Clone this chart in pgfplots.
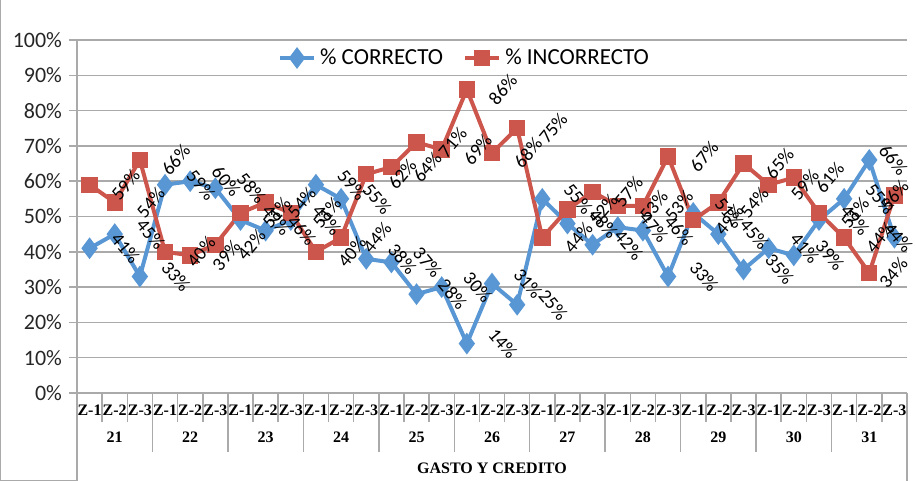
\documentclass[border=0pt]{standalone}
\usepackage{fontspec}
\setmainfont{Carlito}
\newfontfamily\tnr{Liberation Serif}
\usepackage{pgfplots}
\pgfplotsset{compat=1.18}

\definecolor{cblue}{RGB}{88,150,212}
\definecolor{cred}{RGB}{205,86,76}
\definecolor{gridgray}{RGB}{170,170,170}

% x = category index (group 21..31, zones Z-1..Z-3), values in %
\pgfplotstableread{
x  correcto incorrecto
0   41 59
1   45 54
2   33 66
3   59 40
4   60 39
5   58 42
6   49 51
7   46 54
8   49 51
9   59 40
10  55 44
11  38 62
12  37 64
13  28 71
14  30 69
15  14 86
16  31 68
17  25 75
18  55 44
19  48 52
20  42 57
21  47 53
22  46 53
23  33 67
24  51 49
25  45 54
26  35 65
27  41 59
28  39 61
29  49 51
30  55 44
31  66 34
32  44 56
}\datos

% label-only plots: #1 = shift to the right, #2 = rotation
\pgfplotsset{
  etiq/.style 2 args={draw=none, mark=none, forget plot,
    nodes near coords={\pgfmathprintnumber[assume math mode=true]{\pgfplotspointmeta}\%},
    every node near coord/.append style={text=black, font=\fontsize{9.5}{11}\selectfont,
      anchor=center, xshift=#1, rotate=#2}},
}

\begin{document}
\begin{tikzpicture}
\path[use as bounding box] (-38.5pt,-44pt) rectangle (419.5pt,196.5pt);
\draw[gridgray, line width=0.75pt] (-38.2pt,196.5pt) -- (-38.2pt,-43.7pt) -- (0pt,-43.7pt);
\begin{axis}[
  scale only axis, width=415pt, height=176.5pt,
  xmin=-0.5, xmax=32.5, ymin=0, ymax=100,
  clip=false,
  axis lines*=left,
  axis line style={draw=gridgray, line width=0.75pt},
  ymajorgrids, grid style={draw=gridgray, line width=0.75pt},
  tick align=outside, major tick length=4pt,
  ytick={0,10,...,100},
  yticklabels={0\%,10\%,20\%,30\%,40\%,50\%,60\%,70\%,80\%,90\%,100\%},
  ytick style={draw=gridgray, line width=0.75pt},
  yticklabel style={font=\fontsize{11}{13}\selectfont, text=black!85},
  xtick={0,...,32},
  xticklabels={Z-1,Z-2,Z-3,Z-1,Z-2,Z-3,Z-1,Z-2,Z-3,Z-1,Z-2,Z-3,Z-1,Z-2,Z-3,Z-1,Z-2,Z-3,Z-1,Z-2,Z-3,Z-1,Z-2,Z-3,Z-1,Z-2,Z-3,Z-1,Z-2,Z-3,Z-1,Z-2,Z-3},
  xtick style={draw=none},
  xticklabel style={font=\tnr\bfseries\fontsize{8}{9}\selectfont, anchor=center, yshift=-4.5pt},
  extra x ticks={1,4,7,10,13,16,19,22,25,28,31},
  extra x tick labels={21,22,23,24,25,26,27,28,29,30,31},
  extra x tick style={xtick style={draw=none}, xticklabel style={yshift=-13.5pt}},
  xlabel={GASTO Y CREDITO},
  xlabel style={font=\tnr\bfseries\fontsize{8}{9}\selectfont, at={(axis description cs:0.5,0)}, anchor=center, yshift=-37.5pt},
  legend columns=2,
  legend style={at={(0.468,0.949)}, anchor=center, draw=none, fill=none,
    font=\fontsize{11.5}{13}\selectfont,
    /tikz/every even column/.append style={column sep=8pt}},
]
\addplot[cblue, line width=2pt, mark=diamond*, mark size=3.8pt,
  mark options={solid, fill=cblue}]
  table[x=x, y=correcto]{\datos};
\addlegendentry{\% CORRECTO}
\addplot[cred, line width=2pt, mark=square*, mark size=3.1pt,
  mark options={solid, fill=cred}]
  table[x=x, y=incorrecto]{\datos};
\addlegendentry{\% INCORRECTO}
% data labels
\addplot[etiq={18pt}{-50}, restrict x to domain=-1:30.5] table[x=x, y=correcto]{\datos};
\addplot[etiq={12pt}{-50}, restrict x to domain=30.5:31.5] table[x=x, y=correcto]{\datos};
\addplot[etiq={2pt}{-50}, restrict x to domain=31.5:33] table[x=x, y=correcto]{\datos};
\addplot[etiq={18pt}{50}, restrict x to domain=-1:30.5] table[x=x, y=incorrecto]{\datos};
\addplot[etiq={12pt}{50}, restrict x to domain=30.5:31.5] table[x=x, y=incorrecto]{\datos};
\addplot[etiq={0pt}{50}, restrict x to domain=31.5:33] table[x=x, y=incorrecto]{\datos};
% table separators under the category axis
\pgfplotsinvokeforeach{0.5,1.5,3.5,4.5,6.5,7.5,9.5,10.5,12.5,13.5,15.5,16.5,18.5,19.5,21.5,22.5,24.5,25.5,27.5,28.5,30.5,31.5}{
  \draw[gridgray, line width=0.75pt] (axis cs:#1,0) -- ++(0pt,-14.5pt);}
\pgfplotsinvokeforeach{2.5,5.5,8.5,11.5,14.5,17.5,20.5,23.5,26.5,29.5}{
  \draw[gridgray, line width=0.75pt] (axis cs:#1,0) -- ++(0pt,-29.5pt);}
\draw[gridgray, line width=0.75pt] (axis cs:-0.5,0) -- ++(0pt,-44pt);
\draw[gridgray, line width=0.75pt] (axis cs:32.5,0) -- ++(0pt,-44pt);
\end{axis}
\end{tikzpicture}
\end{document}
